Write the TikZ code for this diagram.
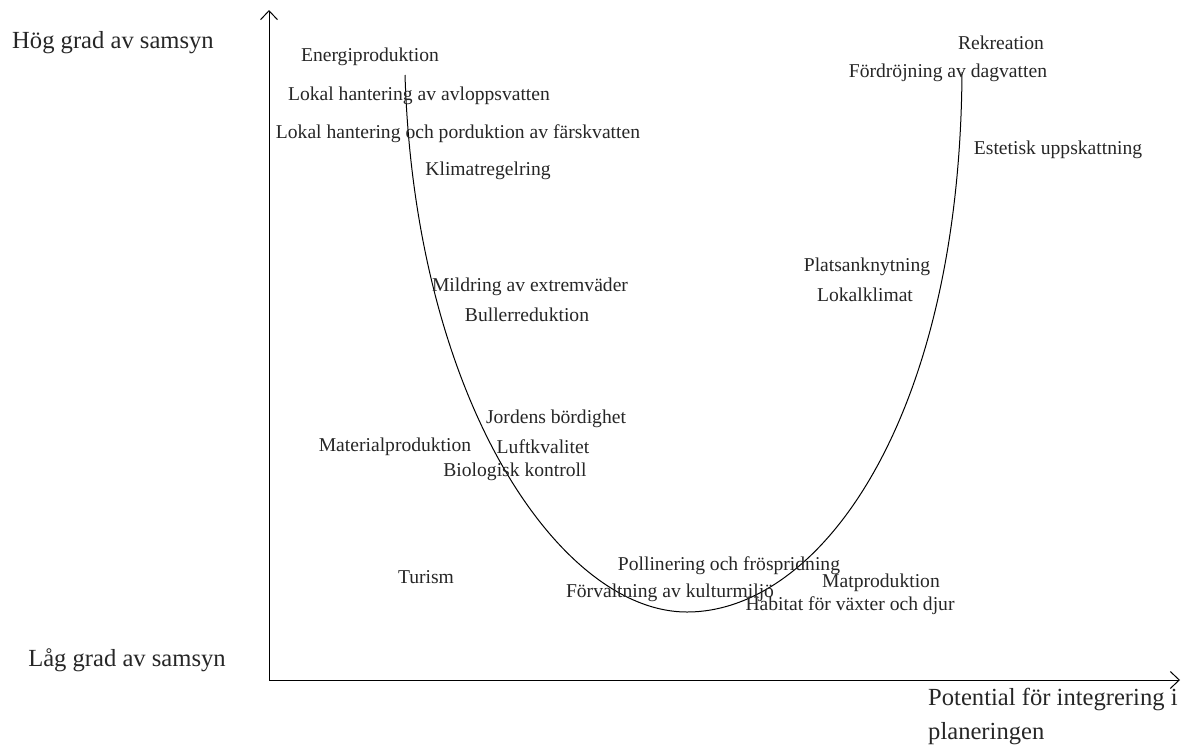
\documentclass[tikz,border=0pt]{standalone}
\usepackage{fontspec}
\setmainfont{Liberation Serif}
\usetikzlibrary{arrows.meta,positioning}

\begin{document}
\begin{tikzpicture}[
      x=1pt,y=-1pt,
      lbl/.style={
         inner sep=0pt,
         text=black!85,
         font=\fontsize{19.6}{23}\selectfont},
      axlbl/.style={
         inner sep=0pt,
         text=black!85,
         font=\fontsize{24.6}{34}\selectfont},
      axis/.style={line width=1pt,-{Straight Barb[length=9pt,width=17pt]}},
      ucurve/.style={line width=1pt}
      ]
      \useasboundingbox (0,0) rectangle (1185,744);

      % axes
      \coordinate (o) at (269,680);
      \coordinate (ytop) at (269,10);
      \coordinate (xend) at (1180,680);
      \draw[axis] (o) -- (ytop);
      \draw[axis] (o) -- (xend);

      \node[axlbl] (hog) at (113,43) {Hög grad av samsyn};
      \node[axlbl] (lag) at (127,660) {Låg grad av samsyn};
      \node[axlbl,anchor=north west,align=left] (pot) at (928,688)
         {Potential för integrering i\\planeringen};

      % the U curve
      \coordinate (ustart) at (405,75);
      \coordinate (ubottom) at (687,612);
      \coordinate (uend) at (962,72);
      \draw[ucurve] (ustart) .. controls (415,400) and (560,612) .. (ubottom)
                             .. controls (820,612) and (960,420) .. (uend);

      \foreach \n/\x/\y/\txt in {% name/centre x/centre y/text
         ener/370/57/Energiproduktion,
         avlopp/419/96/Lokal hantering av avloppsvatten,
         farsk/458/134/Lokal hantering och porduktion av färskvatten,
         klimat/488/171/Klimatregelring,
         mild/530/287/Mildring av extremväder,
         buller/527/315/Bullerreduktion,
         jord/556/419/Jordens bördighet,
         mater/395/447/Materialproduktion,
         luft/543/447/Luftkvalitet,
         bio/515/472/Biologisk kontroll,
         turism/426/577/Turism,
         poll/729/566/Pollinering och fröspridning,
         forv/670/593/Förvaltning av kulturmiljö,
         mat/881/583/Matproduktion,
         habitat/850/606/Habitat för växter och djur,
         rekr/1001/43/Rekreation,
         dag/948/73/Fördröjning av dagvatten,
         estet/1058/150/Estetisk uppskattning,
         plats/867/267/Platsanknytning,
         lokal/865/295/Lokalklimat}
         \node[lbl] (\n) at (\x,\y) {\txt};
\end{tikzpicture}
\end{document}
